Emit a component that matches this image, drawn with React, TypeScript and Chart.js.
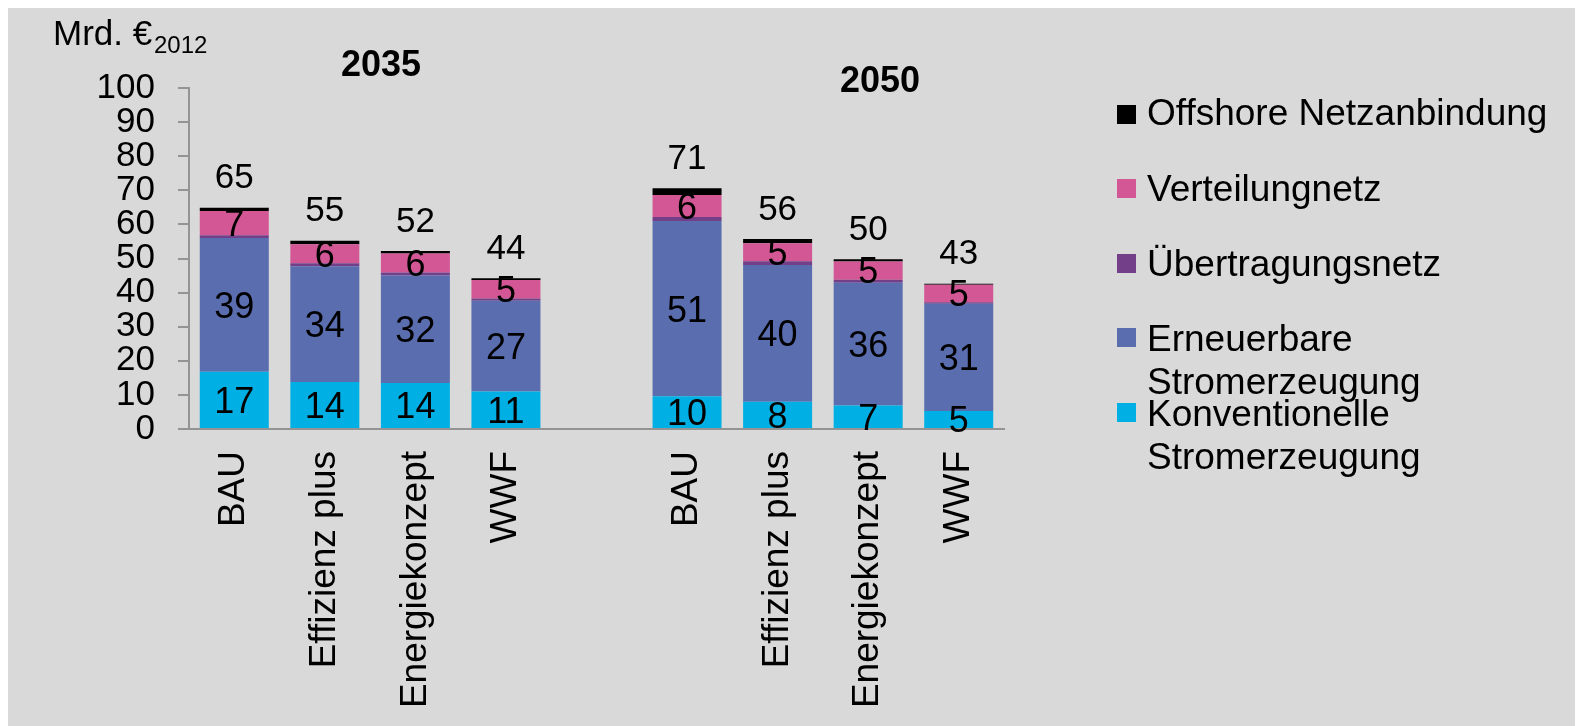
import React, { useEffect, useRef } from "react";
import { Chart, registerables } from "chart.js";

Chart.register(...registerables);

const categories = ["BAU", "Effizienz plus", "Energiekonzept", "WWF", "", "BAU", "Effizienz plus", "Energiekonzept", "WWF"];
const konventionelle = [16.8, 13.8, 13.5, 11.0, null, 9.6, 8.0, 6.9, 5.3];
const erneuerbare = [39.2, 33.9, 31.5, 26.6, null, 51.4, 40.1, 36.0, 31.4];
const uebertragung = [0.8, 0.9, 0.9, 0.7, null, 1.2, 1.1, 0.9, 0.5];
const verteilung = [7.1, 5.6, 5.6, 5.4, null, 6.4, 5.3, 5.3, 5.1];
const offshore = [1.0, 1.0, 0.7, 0.5, null, 2.0, 1.2, 0.7, 0.3];
const yTicks = [0, 10, 20, 30, 40, 50, 60, 70, 80, 90, 100];
const groupTitles = ["2035", "2050"];

const seriesNames = ["Konventionelle Stromerzeugung", "Erneuerbare Stromerzeugung", "Übertragungsnetz", "Verteilungnetz", "Offshore Netzanbindung"];
const seriesData = [konventionelle, erneuerbare, uebertragung, verteilung, offshore];
const seriesColors = ["#00B0E4", "#5A6DAF", "#733F88", "#D35795", "#000000"];
const labelledSeries = [0, 1, 3];

const FONT = "'Liberation Sans', Arial, sans-serif";

const W = 1575;
const H = 718;

export default function App() {
  const ref = useRef<HTMLCanvasElement | null>(null);

  useEffect(() => {
    document.body.style.overflow = "hidden";
    const canvas = ref.current;
    if (!canvas) return;

    const bgPlugin = {
      id: "bg",
      beforeDraw(chart: any) {
        const ctx = chart.ctx;
        ctx.save();
        ctx.fillStyle = "#D9D9D9";
        ctx.fillRect(0, 0, chart.width, chart.height);
        ctx.restore();
      },
    };

    const labelPlugin = {
      id: "labels",
      afterDatasetsDraw(chart: any) {
        const ctx = chart.ctx;
        ctx.save();
        ctx.fillStyle = "#000";
        ctx.textAlign = "center";
        ctx.textBaseline = "alphabetic";
        ctx.font = `36px ${FONT}`;
        labelledSeries.forEach((di) => {
          const meta = chart.getDatasetMeta(di);
          meta.data.forEach((bar: any, i: number) => {
            const v = seriesData[di][i];
            if (v == null) return;
            const cy = (bar.y + bar.base) / 2;
            ctx.fillText(String(Math.round(v)), bar.x, cy + 36 * 0.358);
          });
        });
        ctx.font = `35px ${FONT}`;
        const topMeta = chart.getDatasetMeta(seriesData.length - 1);
        topMeta.data.forEach((bar: any, i: number) => {
          if (konventionelle[i] == null) return;
          let total = 0;
          seriesData.forEach((s) => (total += (s[i] as number) || 0));
          ctx.fillText(String(Math.round(total)), bar.x, bar.y - 32 + 35 * 0.358);
        });
        ctx.restore();
      },
    };

    const decoPlugin = {
      id: "deco",
      afterDraw(chart: any) {
        const ctx = chart.ctx;
        ctx.save();
        ctx.fillStyle = "#000";
        ctx.textBaseline = "alphabetic";
        ctx.textAlign = "left";
        ctx.font = `35px ${FONT}`;
        ctx.fillText("Mrd. €", 45, 37);
        ctx.font = `24px ${FONT}`;
        ctx.fillText("2012", 146, 45);
        ctx.textAlign = "center";
        ctx.font = `bold 36px ${FONT}`;
        ctx.fillText(groupTitles[0], 373, 68);
        ctx.fillText(groupTitles[1], 872, 84);
        const items = [
          { s: 4, sq: 97, multi: false, base: 117 },
          { s: 3, sq: 171, multi: false, base: 193 },
          { s: 2, sq: 246, multi: false, base: 268 },
          { s: 1, sq: 320, multi: true, base: 343 },
          { s: 0, sq: 395, multi: true, base: 418 },
        ];
        ctx.textAlign = "left";
        ctx.font = `37px ${FONT}`;
        items.forEach((it) => {
          ctx.fillStyle = seriesColors[it.s];
          ctx.fillRect(1109, it.sq, 19, 19);
          ctx.fillStyle = "#000";
          const lines = it.multi ? seriesNames[it.s].split(" ") : [seriesNames[it.s]];
          lines.forEach((ln, k) => ctx.fillText(ln, 1139, it.base + k * 43));
        });
        ctx.restore();
      },
    };

    const chart = new Chart(canvas, {
      type: "bar",
      data: {
        labels: categories,
        datasets: seriesData.map((d, i) => ({
          label: seriesNames[i],
          data: d,
          backgroundColor: seriesColors[i],
          borderWidth: 0,
          categoryPercentage: 1,
          barPercentage: 0.762,
        })),
      },
      options: {
        animation: false,
        responsive: false,
        devicePixelRatio: 1,
        layout: { padding: { top: 80, right: 579, bottom: 0, left: 0 } },
        plugins: {
          legend: { display: false },
          tooltip: { enabled: false },
          title: { display: false },
        },
        scales: {
          x: {
            stacked: true,
            grid: { display: false, drawTicks: false },
            border: { display: true, color: "#949494", width: 2 },
            ticks: {
              autoSkip: false,
              maxRotation: 90,
              minRotation: 90,
              padding: 22,
              color: "#000",
              font: { family: FONT, size: 37 },
            },
            afterFit(scale: any) {
              scale.height = 297;
            },
          },
          y: {
            stacked: true,
            min: 0,
            max: 100,
            afterBuildTicks(scale: any) {
              scale.ticks = yTicks.map((v) => ({ value: v }));
            },
            grid: {
              display: true,
              drawOnChartArea: false,
              drawTicks: true,
              tickLength: 11,
              color: "#949494",
              lineWidth: 2,
            },
            border: { display: true, color: "#949494", width: 2 },
            ticks: {
              autoSkip: false,
              padding: 23,
              color: "#000",
              font: { family: FONT, size: 35 },
            },
            afterFit(scale: any) {
              scale.width = 181;
            },
          },
        },
      },
      plugins: [bgPlugin, labelPlugin, decoPlugin],
    });

    return () => chart.destroy();
  }, []);

  return (
    <div style={{ width: W, height: H }}>
      <canvas ref={ref} width={W} height={H} style={{ display: "block", width: W, height: H }} />
    </div>
  );
}
